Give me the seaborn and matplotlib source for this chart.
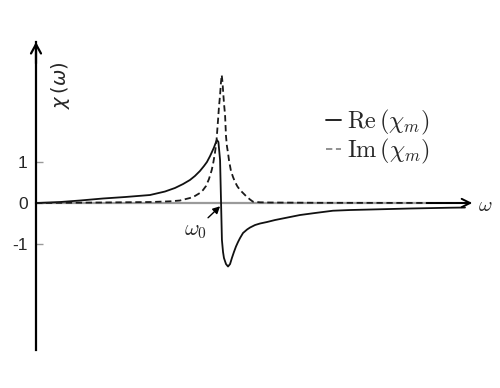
import numpy as np
import pandas as pd
import matplotlib
matplotlib.use("Agg")
import matplotlib.pyplot as plt
import seaborn as sns

# ---- data (omega in units of omega_0) ----
re_omega = [0.000, 0.130, 0.238, 0.362, 0.481, 0.616, 0.697, 0.751, 0.795, 0.832,
            0.859, 0.886, 0.908, 0.924, 0.941, 0.951, 0.962, 0.970, 0.978, 0.986,
            0.995, 1.000, 1.005, 1.011, 1.016, 1.027, 1.038, 1.049, 1.059, 1.070,
            1.081, 1.092, 1.103, 1.119, 1.141, 1.157, 1.184, 1.211, 1.249, 1.292,
            1.346, 1.427, 1.508, 1.605, 1.697, 1.805, 2.022, 2.238, 2.319]
re_chi = [0.000, 0.024, 0.061, 0.110, 0.146, 0.195, 0.280, 0.366, 0.463, 0.561,
          0.659, 0.780, 0.902, 1.000, 1.146, 1.244, 1.354, 1.451, 1.537, 1.488,
          1.049, 0.073, -0.902, -1.195, -1.341, -1.488, -1.549, -1.488, -1.341, -1.195,
          -1.061, -0.951, -0.854, -0.732, -0.646, -0.598, -0.537, -0.500, -0.463, -0.415,
          -0.366, -0.293, -0.244, -0.188, -0.171, -0.159, -0.134, -0.115, -0.110]

im_omega = [0.000, 0.346, 0.616, 0.724, 0.778, 0.832, 0.859, 0.886, 0.903, 0.919,
            0.935, 0.950, 0.959, 0.968, 0.976, 0.984, 0.989, 0.995, 1.000, 1.004,
            1.008, 1.011, 1.016, 1.022, 1.027, 1.032, 1.038, 1.043, 1.049, 1.054,
            1.065, 1.076, 1.089, 1.103, 1.119, 1.135, 1.157, 1.173, 1.211, 1.265,
            1.535, 2.346]
im_chi = [0.000, 0.012, 0.024, 0.041, 0.061, 0.122, 0.171, 0.244, 0.317, 0.415,
          0.585, 0.805, 1.000, 1.244, 1.537, 2.024, 2.341, 2.634, 2.951, 3.122,
          2.951, 2.756, 2.439, 2.146, 1.634, 1.390, 1.220, 1.049, 0.900, 0.780,
          0.634, 0.512, 0.402, 0.317, 0.244, 0.171, 0.085, 0.032, 0.017, 0.012,
          0.005, 0.000]

ytick_vals = [1, 0, -1]
ytick_labels = ["1", "0", "-1"]
series_labels = [r"$\mathrm{Re}\,(\chi_m)$", r"$\mathrm{Im}\,(\chi_m)$"]

df_re = pd.DataFrame({"omega": re_omega, "chi": re_chi})
df_im = pd.DataFrame({"omega": im_omega, "chi": im_chi})

sns.set_theme(style="white")
plt.rcParams["font.family"] = ["Liberation Sans", "DejaVu Sans"]
plt.rcParams["mathtext.fontset"] = "cm"

fig = plt.figure(figsize=(5.0, 3.88), dpi=100)
ax = fig.add_axes([36 / 500, 38 / 388, 434 / 500, 308 / 388])

sns.lineplot(data=df_re, x="omega", y="chi", ax=ax, color="#111111", lw=1.3,
             estimator=None, sort=False, label=series_labels[0])
sns.lineplot(data=df_im, x="omega", y="chi", ax=ax, color="#1a1a1a", lw=1.3,
             estimator=None, sort=False, label=series_labels[1],
             linestyle=(0, (3.5, 2.0)))

ax.set_xlim(0, 2.346)
ax.set_ylim(-3.585, 3.927)

# axes styling
for s in ["top", "right"]:
    ax.spines[s].set_visible(False)
ax.spines["left"].set_color("black")
ax.spines["left"].set_linewidth(1.6)
ax.spines["bottom"].set_position(("data", 0))
ax.spines["bottom"].set_color("#9a9a9a")
ax.spines["bottom"].set_linewidth(1.6)
ax.spines["bottom"].set_zorder(0.5)

ax.set_xticks([])
ax.set_yticks(ytick_vals)
ax.set_yticklabels(ytick_labels)
ax.tick_params(axis="y", direction="in", length=5, width=1.0, color="#999999",
               labelsize=12.5, pad=6, left=True)
ax.set_xlabel("")
ax.set_ylabel("")

# axis arrows
ax.annotate("", xy=(0, 1.0), xycoords="axes fraction", xytext=(0, 0.93),
            arrowprops=dict(arrowstyle="->,head_length=0.55,head_width=0.3",
                            lw=1.6, color="black", shrinkA=0, shrinkB=0),
            annotation_clip=False)
ax.annotate("", xy=(1.005, 0), xycoords=("axes fraction", "data"),
            xytext=(0.90, 0), textcoords=("axes fraction", "data"),
            arrowprops=dict(arrowstyle="->,head_length=0.5,head_width=0.25",
                            lw=1.4, color="black", shrinkA=0, shrinkB=0),
            annotation_clip=False)

# axis labels
ax.text(2.43, -0.05, r"$\omega$", fontsize=15, ha="center", va="center",
        math_fontfamily="cm", clip_on=False)
ax.text(0.135, 2.88, r"$\chi\,(\omega)$", fontsize=14, ha="center", va="center",
        rotation=90, math_fontfamily="dejavusans")

# omega_0 marker
ax.text(0.86, -0.68, r"$\omega_0$", fontsize=16, ha="center", va="center",
        math_fontfamily="cm")
ax.annotate("", xy=(0.995, -0.08), xytext=(0.93, -0.36),
            arrowprops=dict(arrowstyle="-|>,head_length=0.35,head_width=0.18",
                            lw=1.0, color="black", shrinkA=0, shrinkB=0))

# legend
leg = ax.legend(loc="upper left", bbox_to_anchor=(326 / 500, 1 - 108 / 388),
                bbox_transform=fig.transFigure, frameon=False, fontsize=17.5,
                handlelength=0.6, handletextpad=0.25, labelspacing=0.0,
                borderpad=0, borderaxespad=0)
leg.legend_handles[1].set_color("#888888")

fig.savefig("out.png", dpi=100)
